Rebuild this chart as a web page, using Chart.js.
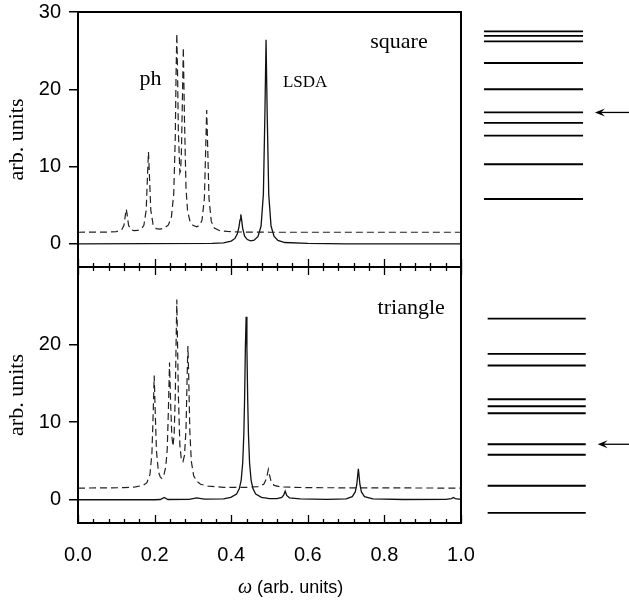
<!DOCTYPE html>
<html>
<head>
<meta charset="utf-8">
<script src="https://cdn.jsdelivr.net/npm/chart.js@4.4.1/dist/chart.umd.min.js"></script>
<style>
  html, body { margin: 0; padding: 0; background: #fff; }
  #wrap { position: relative; width: 629px; height: 603px; }
  canvas { position: absolute; }
</style>
</head>
<body>
<div id="wrap">
  <canvas id="topLevels" width="159" height="268" style="left:470px;top:0"></canvas>
  <canvas id="botLevels" width="159" height="268" style="left:470px;top:260px"></canvas>
  <canvas id="topPanel" width="490" height="268" style="left:0;top:0"></canvas>
  <canvas id="botPanel" width="490" height="343" style="left:0;top:260px"></canvas>
</div>
<script>
// spectra: [omega, intensity]
const SQ_PH = [[0,1.5],[0.08,1.52],[0.1,1.58],[0.114,1.8],[0.12,2.4],[0.124,3.85],[0.126,4.5],[0.128,3.9],[0.132,2.4],[0.138,1.85],
  [0.146,1.7],[0.156,1.73],[0.166,1.95],[0.172,2.4],[0.178,4.35],[0.182,9.5],[0.184,11.9],[0.186,9.5],[0.19,4.4],[0.196,2.5],
  [0.204,1.96],[0.214,1.9],[0.226,2.05],[0.236,2.45],[0.244,3.5],[0.25,6.5],[0.254,13.8],[0.256,21.8],[0.258,27.2],[0.26,21.9],
  [0.262,14.6],[0.266,9.2],[0.268,9.5],[0.27,11.8],[0.272,17],[0.275,25.4],[0.278,16.2],[0.282,7.2],[0.286,4.3],[0.292,3.0],
  [0.3,2.4],[0.31,2.2],[0.318,2.4],[0.324,3.1],[0.33,5.9],[0.334,13.4],[0.336,17.3],[0.338,13.7],[0.342,5.9],[0.348,2.9],
  [0.356,2.05],[0.37,1.7],[0.39,1.6],[0.42,1.53],[0.5,1.5],[1,1.5]];
const SQ_LSDA = [[0,0],[0.35,0.05],[0.38,0.12],[0.4,0.35],[0.41,0.7],[0.416,1.3],[0.42,2.1],[0.423,3.1],[0.425,3.8],[0.427,3.2],
  [0.43,2.0],[0.435,1.0],[0.442,0.55],[0.451,0.38],[0.46,0.48],[0.47,0.95],[0.478,2.3],[0.484,6.4],[0.488,16.8],[0.491,26.4],
  [0.494,16.8],[0.498,6.4],[0.504,2.3],[0.512,0.95],[0.522,0.45],[0.54,0.17],[0.6,0.05],[0.7,0],[1,0]];
const TRI_PH = [[0,1.5],[0.12,1.55],[0.15,1.65],[0.17,1.85],[0.18,2.2],[0.188,3.3],[0.193,6.0],[0.196,10.7],[0.199,16.0],[0.202,10.7],
  [0.205,6.2],[0.21,3.6],[0.215,2.9],[0.219,2.75],[0.224,3.1],[0.229,4.2],[0.233,6.5],[0.236,11.5],[0.239,17.7],[0.242,12.2],
  [0.245,8.2],[0.248,6.9],[0.251,8.4],[0.254,13.5],[0.256,19.8],[0.258,25.8],[0.26,19.8],[0.262,13.6],[0.266,7.0],[0.27,5.1],
  [0.274,4.9],[0.278,5.7],[0.282,9.1],[0.285,16.0],[0.287,19.8],[0.289,16.0],[0.292,8.8],[0.296,4.9],[0.302,3.1],[0.31,2.4],
  [0.32,2.0],[0.34,1.75],[0.38,1.6],[0.44,1.6],[0.47,1.7],[0.485,2.0],[0.491,2.6],[0.494,3.2],[0.497,3.9],[0.5,3.2],
  [0.504,2.4],[0.512,1.85],[0.53,1.65],[0.6,1.55],[1,1.5]];
const TRI_LSDA = [[0,0],[0.2,0],[0.215,0.03],[0.225,0.3],[0.235,0.03],[0.29,0.05],[0.31,0.25],[0.33,0.08],[0.38,0.12],[0.399,0.3],
  [0.414,0.73],[0.421,1.4],[0.426,2.5],[0.43,4.7],[0.433,8.5],[0.435,13.1],[0.437,19.6],[0.439,23.6],[0.441,19.6],[0.443,13.1],
  [0.445,8.5],[0.448,4.7],[0.452,2.5],[0.457,1.4],[0.464,0.73],[0.479,0.3],[0.5,0.15],[0.52,0.15],[0.532,0.3],[0.537,0.6],
  [0.541,1.1],[0.545,0.55],[0.552,0.25],[0.58,0.1],[0.65,0.05],[0.7,0.12],[0.716,0.4],[0.724,1.0],[0.728,2.0],[0.732,4.0],
  [0.736,2.0],[0.74,1.0],[0.748,0.4],[0.77,0.12],[0.85,0.03],[0.96,0.05],[0.975,0.15],[0.98,0.3],[0.985,0.15],[1,0.05]];

// energy levels on the right, same units as the panels
const SQ_LEVELS = [27.5, 26.9, 26.2, 23.4, 20.0, 17.0, 15.65, 14.0, 10.3, 5.8];
const TRI_LEVELS = [23.35, 18.8, 17.3, 12.95, 12.05, 11.15, 7.15, 5.8, 1.8, -1.7];
const SQ_MARKED = 17.0;
const TRI_MARKED = 7.15;

const X_LABELS = [0, 0.2, 0.4, 0.6, 0.8, 1.0];
const SQ_Y_TICKS = [0, 10, 20, 30];
const TRI_Y_TICKS = [0, 10, 20];

Chart.defaults.font.family = 'Liberation Sans';
Chart.defaults.color = '#000';

// no automatic room for edge labels, the plot boxes are placed by hand
function noPad(s) {
  s.paddingTop = 0; s.paddingBottom = 0; s.paddingLeft = 0; s.paddingRight = 0;
}

const framePlugin = {
  id: 'frame',
  afterDatasetsDraw(chart, args, opts) {
    const { ctx, chartArea: a, scales: { x } } = chart;
    ctx.save();
    ctx.strokeStyle = '#000';
    ctx.lineWidth = 2;
    ctx.strokeRect(a.left, a.top, a.right - a.left, a.bottom - a.top);
    ctx.lineWidth = 1.3;
    for (let i = 0; i <= 25; i++) {
      const px = Math.round(x.getPixelForValue(i * 0.04)) + 0.5;
      const len = i % 5 === 0 ? 8 : 4;
      ctx.beginPath();
      if (opts.edges.includes('top')) { ctx.moveTo(px, a.top); ctx.lineTo(px, a.top + len); }
      if (opts.edges.includes('bottom')) { ctx.moveTo(px, a.bottom); ctx.lineTo(px, a.bottom - len); }
      ctx.stroke();
    }
    ctx.restore();
  }
};

const notesPlugin = {
  id: 'notes',
  afterDraw(chart, args, opts) {
    const { ctx, scales: { x, y } } = chart;
    ctx.save();
    ctx.fillStyle = '#000';
    ctx.textAlign = 'center';
    ctx.textBaseline = 'alphabetic';
    (opts.items || []).forEach(n => {
      ctx.font = n.size + 'px "Liberation Serif"';
      ctx.fillText(n.text, x.getPixelForValue(n.x), y.getPixelForValue(n.y));
    });
    if (opts.xTitle) {
      const bx = 238, by = chart.height - 10;
      ctx.textAlign = 'left';
      ctx.font = 'italic 20px "Liberation Serif"';
      ctx.fillText('\u03c9', bx, by);
      const w = ctx.measureText('\u03c9').width;
      ctx.font = '18px "Liberation Sans"';
      ctx.fillText(' (arb. units)', bx + w, by);
    }
    ctx.restore();
  }
};

function panel(id, ph, lsda, yTicks, edges, items, pad, showX) {
  return new Chart(document.getElementById(id), {
    type: 'scatter',
    data: {
      datasets: [
        { data: ph.map(([x, y]) => ({ x, y })), showLine: true, borderColor: '#222', borderWidth: 1.2,
          borderDash: [7, 4], pointRadius: 0, tension: 0 },
        { data: lsda.map(([x, y]) => ({ x, y })), showLine: true, borderColor: '#111', borderWidth: 1.3,
          pointRadius: 0, tension: 0 }
      ]
    },
    options: {
      responsive: false,
      animation: false,
      layout: { padding: pad },
      plugins: {
        legend: { display: false },
        tooltip: { enabled: false },
        frame: { edges },
        notes: { items, xTitle: showX }
      },
      scales: {
        x: {
          type: 'linear', min: 0, max: 1, display: showX,
          afterFit: s => { if (showX) s.height = 80; noPad(s); },
          afterBuildTicks: s => { s.ticks = X_LABELS.map(v => ({ value: v })); },
          ticks: { callback: v => v.toFixed(1), font: { size: 20 }, padding: 12, maxRotation: 0, autoSkip: false, color: '#000' },
          grid: { display: false },
          border: { display: false }
        },
        y: {
          min: -3, max: 30,
          afterFit: s => { s.width = 78; noPad(s); },
          afterBuildTicks: s => { s.ticks = yTicks.map(v => ({ value: v })); },
          ticks: { font: { size: 20 }, padding: 8, color: '#000' },
          grid: { drawOnChartArea: false, tickLength: 9, color: '#000', lineWidth: 1.5 },
          border: { display: false },
          title: { display: true, text: 'arb. units', color: '#000',
                   font: { family: 'Liberation Serif', size: 22 }, padding: { top: 4, bottom: 0 } }
        }
      }
    },
    plugins: [framePlugin, notesPlugin]
  });
}

const arrowPlugin = {
  id: 'arrowHead',
  afterDatasetsDraw(chart, args, opts) {
    const { ctx, scales: { x, y } } = chart;
    const tx = x.getPixelForValue(opts.tip), ty = y.getPixelForValue(opts.level);
    ctx.save();
    ctx.fillStyle = '#000';
    ctx.beginPath();
    ctx.moveTo(tx, ty);
    ctx.lineTo(tx + 10, ty - 4);
    ctx.lineTo(tx + 6, ty);
    ctx.lineTo(tx + 10, ty + 4);
    ctx.closePath();
    ctx.fill();
    ctx.restore();
  }
};

function levels(id, lv, marked, x0, x1, tip, pad) {
  const ds = lv.map(e => ({
    data: [{ x: x0, y: e }, { x: x1, y: e }],
    showLine: true, borderColor: '#000', borderWidth: 1.8, pointRadius: 0
  }));
  ds.push({ data: [{ x: tip + 0.02, y: marked }, { x: 1, y: marked }],
            showLine: true, borderColor: '#000', borderWidth: 1.3, pointRadius: 0 });
  return new Chart(document.getElementById(id), {
    type: 'scatter',
    data: { datasets: ds },
    options: {
      responsive: false,
      animation: false,
      layout: { padding: pad },
      plugins: { legend: { display: false }, tooltip: { enabled: false }, arrowHead: { tip, level: marked } },
      scales: {
        x: { display: false, min: 0, max: 1 },
        y: { display: false, min: -3, max: 30 }
      }
    },
    plugins: [arrowPlugin]
  });
}

panel('topPanel', SQ_PH, SQ_LSDA, SQ_Y_TICKS, ['bottom'],
  [{ text: 'ph', x: 0.189, y: 20.5, size: 22 },
   { text: 'LSDA', x: 0.593, y: 20.3, size: 17 },
   { text: 'square', x: 0.838, y: 25.4, size: 22 }],
  { top: 12, right: 29, bottom: 1, left: 0 }, false);

panel('botPanel', TRI_PH, TRI_LSDA, TRI_Y_TICKS, ['top', 'bottom'],
  [{ text: 'triangle', x: 0.87, y: 23.9, size: 22 }],
  { top: 7, right: 29, bottom: 0, left: 0 }, true);

levels('topLevels', SQ_LEVELS, SQ_MARKED, 0.088, 0.711, 0.786, { top: 12, bottom: 1, left: 0, right: 0 });
levels('botLevels', TRI_LEVELS, TRI_MARKED, 0.111, 0.728, 0.803, { top: 7, bottom: 5, left: 0, right: 0 });
</script>
</body>
</html>
